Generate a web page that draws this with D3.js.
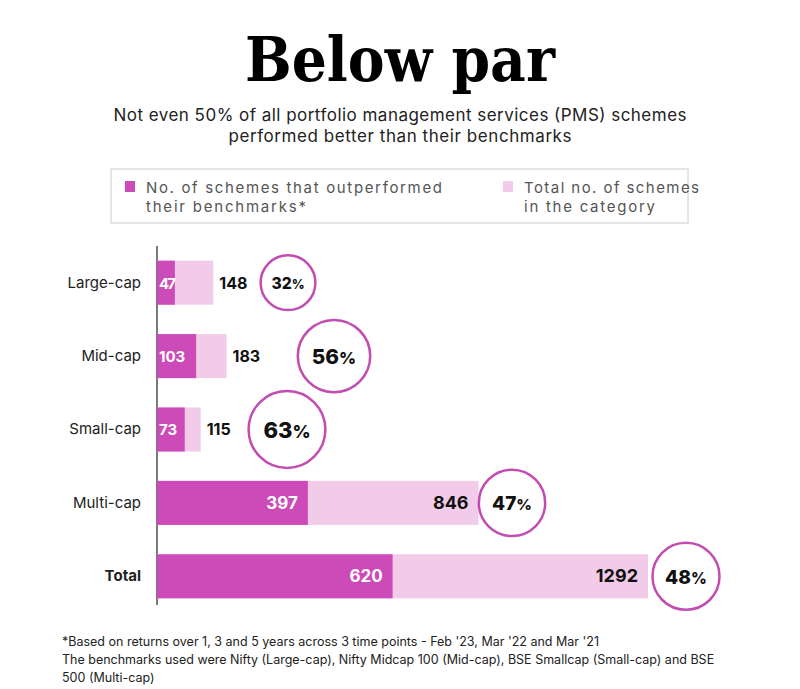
<!DOCTYPE html>
<html>
<head>
<meta charset="utf-8">
<script src="https://cdn.jsdelivr.net/npm/d3@7"></script>
<style>
  body { margin: 0; background: #fff; }
  text { font-family: Inter, "Open Sans", sans-serif; }
</style>
</head>
<body>
<script>
const categories = ["Large-cap", "Mid-cap", "Small-cap", "Multi-cap", "Total"];
const outperformed = [47, 103, 73, 397, 620];
const totals = [148, 183, 115, 846, 1292];
const percents = [32, 56, 63, 47, 48];

const w = 800, h = 689;
const dark = "#cc4bb8", light = "#f2cbe9", ring = "#c24cb0";

const svg = d3.select("body").append("svg").attr("width", w).attr("height", h);

svg.append("text").attr("x", 400).attr("y", 81).attr("text-anchor", "middle")
    .style("font-family", "'DejaVu Serif', 'Liberation Serif', serif")
    .style("font-weight", 900).style("font-size", "62px")
    .attr("textLength", 310).attr("lengthAdjust", "spacingAndGlyphs")
    .text("Below par");

svg.append("text").attr("x", 400).attr("y", 121).attr("text-anchor", "middle")
    .style("font-size", "17px").attr("fill", "#222").attr("textLength", 573)
    .text("Not even 50% of all portfolio management services (PMS) schemes");
svg.append("text").attr("x", 400).attr("y", 142).attr("text-anchor", "middle")
    .style("font-size", "17px").attr("fill", "#222").attr("textLength", 343)
    .text("performed better than their benchmarks");

// legend
svg.append("rect").attr("x", 111).attr("y", 169).attr("width", 577).attr("height", 54)
    .attr("fill", "none").attr("stroke", "#ccc");
const leg = [
    { x: 125, c: dark, l: ["No. of schemes that outperformed", "their benchmarks*"], tl: [296, 160] },
    { x: 503, c: light, l: ["Total no. of schemes", "in the category"], tl: [175, 131] }
];
leg.forEach(d => {
    svg.append("rect").attr("x", d.x).attr("y", 181).attr("width", 10).attr("height", 11).attr("fill", d.c);
    d.l.forEach((t, i) => svg.append("text").attr("x", d.x + 21).attr("y", 193 + i * 19)
        .style("font-size", "15px").attr("fill", "#555").attr("textLength", d.tl[i]).text(t));
});

const x = d3.scaleLinear().domain([0, 1292]).range([157, 648]);
const y = d3.scaleBand().domain(categories).range([246, 613]).paddingInner(0.4).paddingOuter(0.2);
const r = d3.scaleSqrt().domain([0, 63]).range([0, 40]);

svg.append("line").attr("x1", 157).attr("x2", 157).attr("y1", 246).attr("y2", 605)
    .attr("stroke", "#222").attr("stroke-width", 1.2);

const rows = svg.selectAll("g.row").data(categories).enter().append("g").attr("class", "row")
    .attr("transform", d => "translate(0," + y(d) + ")");
const bh = y.bandwidth();

rows.append("rect").attr("x", x(0)).attr("height", bh)
    .attr("width", (d, i) => x(totals[i]) - x(0)).attr("fill", light);
rows.append("rect").attr("x", x(0)).attr("height", bh)
    .attr("width", (d, i) => x(outperformed[i]) - x(0)).attr("fill", dark);

rows.append("text").attr("x", 141).attr("y", bh / 2 + 5).attr("text-anchor", "end")
    .style("font-size", "15px").style("font-weight", d => d === "Total" ? 700 : 400)
    .attr("fill", "#222").text(d => d);

// outperformed labels
rows.append("text").attr("y", bh / 2 + 6).attr("fill", "#fff").style("font-weight", 700)
    .style("font-size", (d, i) => i < 3 ? "15px" : "17px")
    .attr("x", (d, i) => i < 3 ? x(0) + 2 : x(outperformed[i]) - 10)
    .attr("text-anchor", (d, i) => i < 3 ? "start" : "end")
    .attr("textLength", (d, i) => i === 0 ? 17 : null)
    .text((d, i) => outperformed[i]);

// total labels
rows.append("text").attr("y", bh / 2 + 6).attr("fill", "#111").style("font-weight", 700)
    .style("font-size", (d, i) => i < 3 ? "16px" : "18px")
    .attr("x", (d, i) => i < 3 ? x(totals[i]) + 6 : x(totals[i]) - 10)
    .attr("text-anchor", (d, i) => i < 3 ? "start" : "end")
    .text((d, i) => totals[i]);

// percentage rings
const cxs = [288, 334, 287, 512, 686];
rows.append("circle").attr("cx", (d, i) => cxs[i]).attr("cy", bh / 2)
    .attr("r", (d, i) => r(percents[i]) * 0.96).attr("fill", "none")
    .attr("stroke", ring).attr("stroke-width", 2.5);
const pt = rows.append("text").attr("x", (d, i) => cxs[i]).attr("y", (d, i) => bh / 2 + r(percents[i]) * 0.22)
    .attr("text-anchor", "middle").style("font-weight", 800).attr("fill", "#111")
    .style("font-size", (d, i) => (r(percents[i]) * 0.55) + "px");
pt.append("tspan").text((d, i) => percents[i]);
pt.append("tspan").style("font-size", "80%").text("%");

const notes = [
    "*Based on returns over 1, 3 and 5 years across 3 time points - Feb '23, Mar '22 and Mar '21",
    "The benchmarks used were Nifty (Large-cap), Nifty Midcap 100 (Mid-cap), BSE Smallcap (Small-cap) and BSE",
    "500 (Multi-cap)"
];
notes.forEach((t, i) => svg.append("text").attr("x", 62).attr("y", 646 + i * 18)
    .style("font-size", "12.5px").attr("fill", "#222").text(t));
</script>
</body>
</html>
